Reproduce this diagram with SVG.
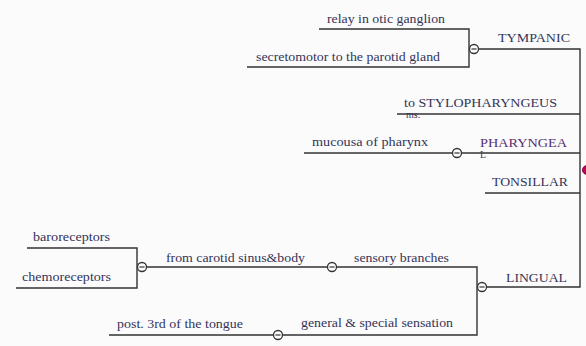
<svg xmlns="http://www.w3.org/2000/svg" xmlns:xlink="http://www.w3.org/1999/xlink" width="586" height="346" viewBox="0 0 586 346">
<style>
text{font-family:"Liberation Serif","DejaVu Serif","Noto Serif",serif;font-size:12px;fill:#343458}
.p{fill:#5a2e6e}
.c{fill:none;stroke:#333;stroke-width:1.4}
</style>
<defs>
<g id="col"><circle r="4.5" fill="#fff" stroke="#333" stroke-width="1.3"/><line x1="-2.6" y1="0" x2="2.6" y2="0" stroke="#333" stroke-width="1.2"/></g>
</defs>
<rect width="586" height="346" fill="#fbfbfb"/>
<g id="connectors">
<path class="c" d="M319,29 H469 V67 H247"/>
<path class="c" d="M474,49 H580 V287 H482"/>
<path class="c" d="M397,114 H580"/>
<path class="c" d="M304,153 H580"/>
<path class="c" d="M485,193 H580"/>
<path class="c" d="M27,248 H137 V288 H16"/>
<path class="c" d="M142,267 H477 V335 H109"/>
</g>
<g id="tympanic"><text x="498" y="42" textLength="72" lengthAdjust="spacingAndGlyphs">TYMPANIC</text><use xlink:href="#col" x="474" y="49"/></g>
<g id="relay"><text x="327" y="23" textLength="118" lengthAdjust="spacingAndGlyphs">relay in otic ganglion</text></g>
<g id="secretomotor"><text x="256" y="61" textLength="184" lengthAdjust="spacingAndGlyphs">secretomotor to the parotid gland</text></g>
<g id="stylo"><text x="404" y="107" textLength="153" lengthAdjust="spacingAndGlyphs">to STYLOPHARYNGEUS</text><text x="406" y="118" style="font-size:10px">ms.</text></g>
<g id="pharyngeal"><text class="p" x="480" y="147" textLength="87" lengthAdjust="spacingAndGlyphs">PHARYNGEA</text><text class="p" x="480" y="158" style="font-size:10px">L</text><use xlink:href="#col" x="457" y="153"/></g>
<g id="mucousa"><text x="312" y="146" textLength="116" lengthAdjust="spacingAndGlyphs">mucousa of pharynx</text></g>
<g id="tonsillar"><text x="492" y="186" textLength="76" lengthAdjust="spacingAndGlyphs">TONSILLAR</text></g>
<g id="root"><circle cx="587" cy="170" r="4.5" fill="#c8005a" stroke="#8a0040" stroke-width="1"/></g>
<g id="lingual"><text x="506" y="282" textLength="61" lengthAdjust="spacingAndGlyphs">LINGUAL</text><use xlink:href="#col" x="482" y="287"/></g>
<g id="sensory"><text x="354" y="262" textLength="95" lengthAdjust="spacingAndGlyphs">sensory branches</text><use xlink:href="#col" x="332" y="267"/></g>
<g id="carotid"><text x="166" y="262" textLength="139" lengthAdjust="spacingAndGlyphs">from carotid sinus&amp;body</text><use xlink:href="#col" x="142" y="267"/></g>
<g id="baro"><text x="33" y="241" textLength="77" lengthAdjust="spacingAndGlyphs">baroreceptors</text></g>
<g id="chemo"><text x="22" y="281" textLength="89" lengthAdjust="spacingAndGlyphs">chemoreceptors</text></g>
<g id="general"><text x="301" y="327" textLength="152" lengthAdjust="spacingAndGlyphs">general &amp; special sensation</text><use xlink:href="#col" x="278" y="335"/></g>
<g id="post"><text x="117" y="328" textLength="126" lengthAdjust="spacingAndGlyphs">post. 3rd of the tongue</text></g>
</svg>
